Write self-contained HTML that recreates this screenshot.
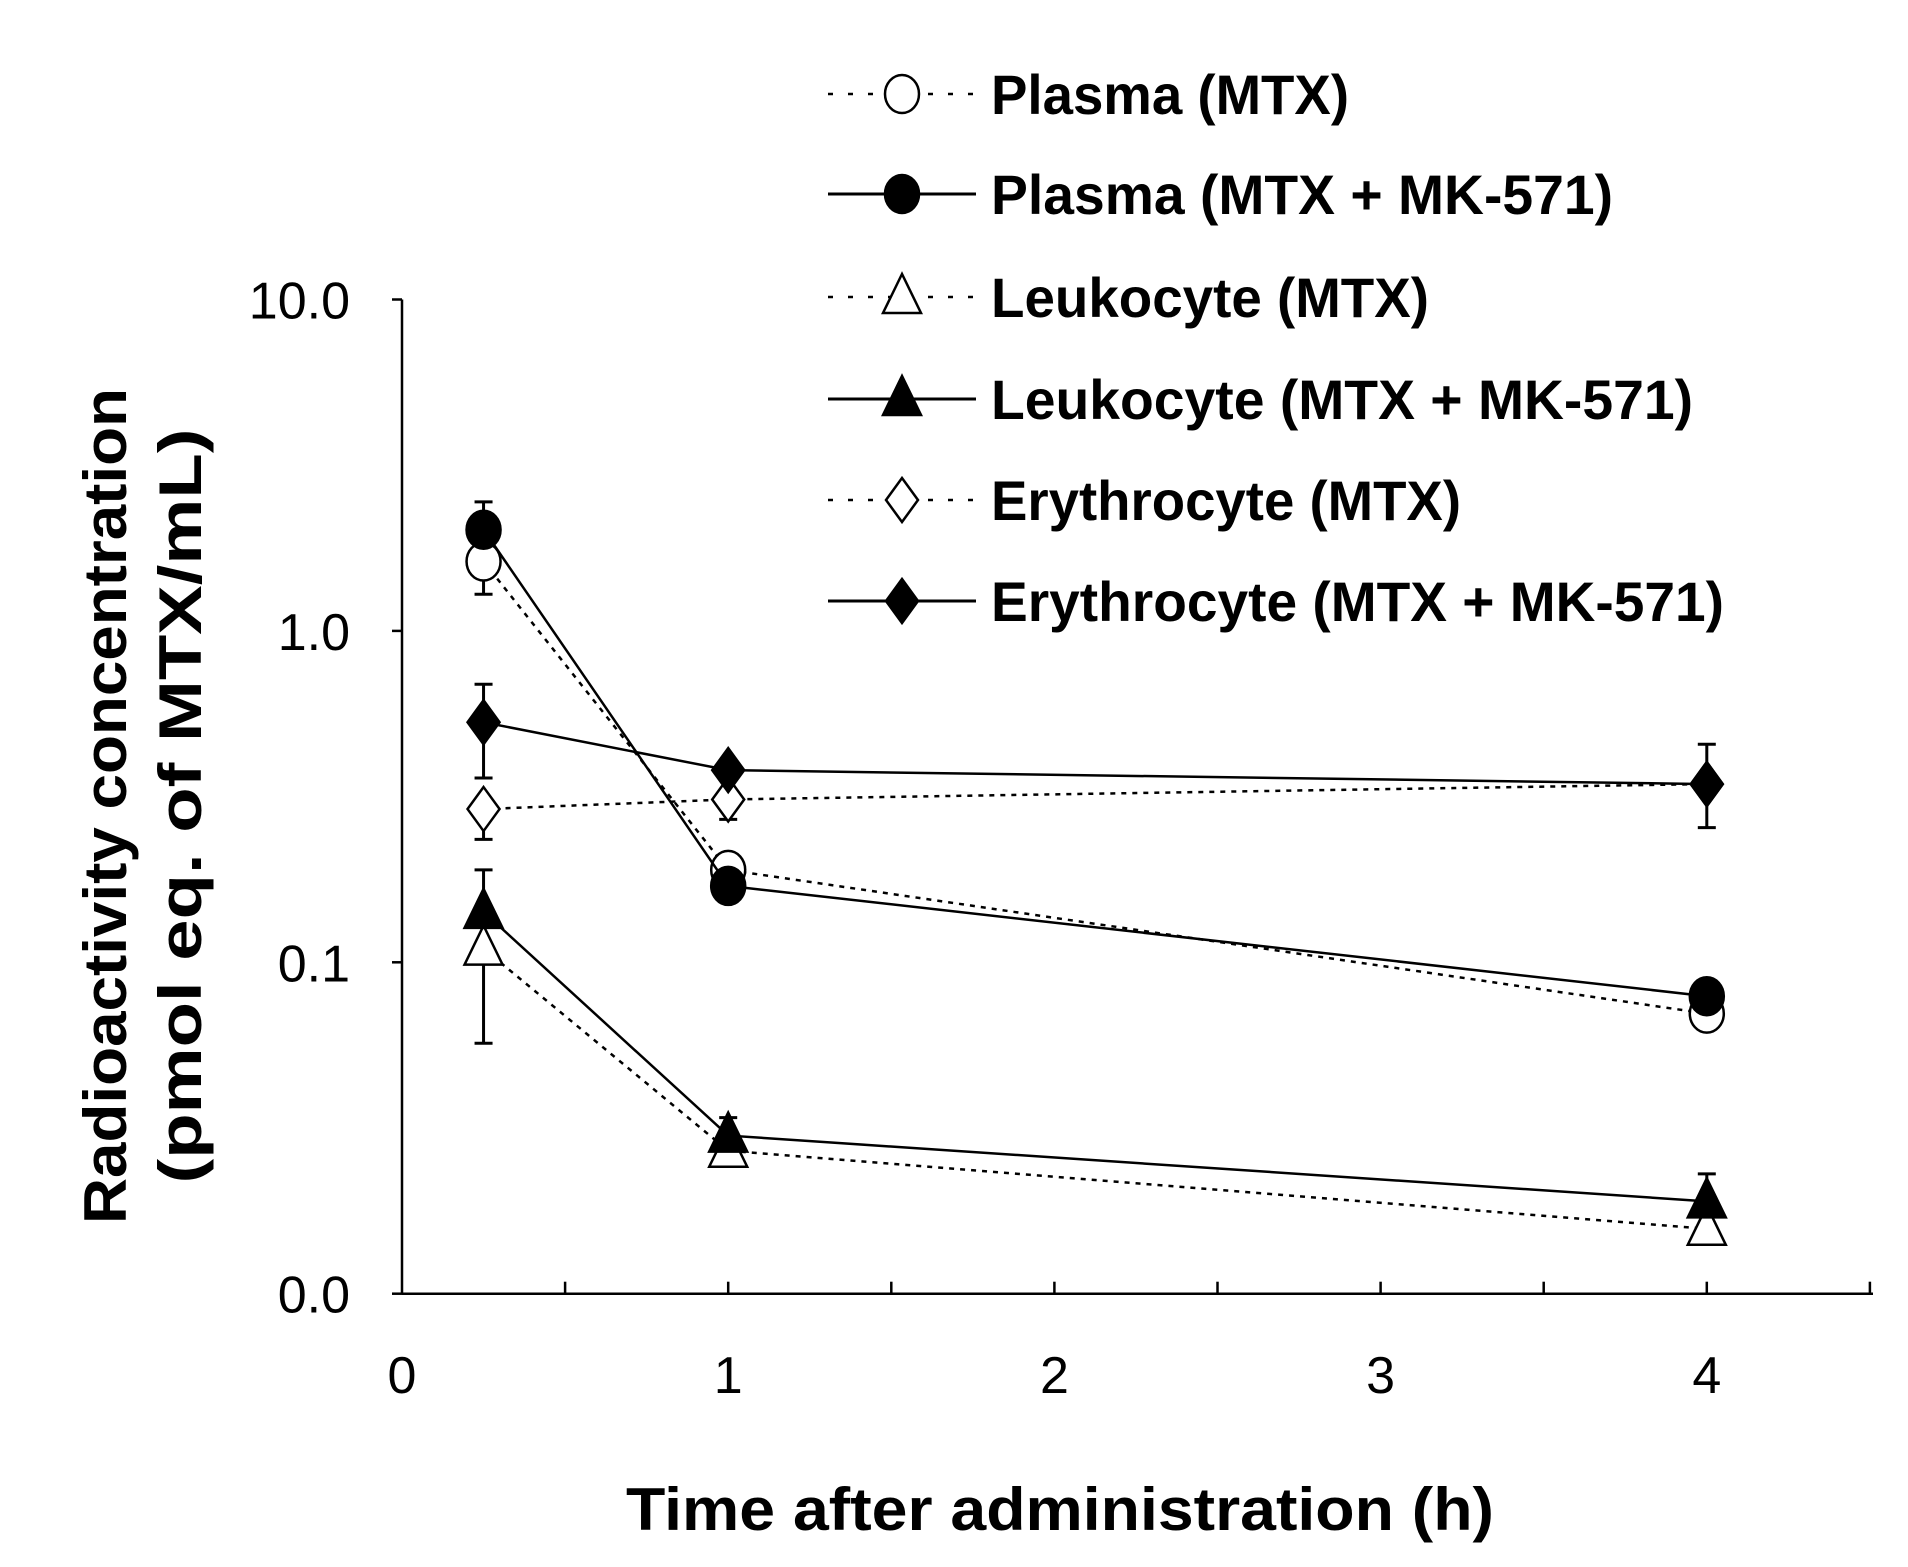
<!DOCTYPE html>
<html><head><meta charset="utf-8"><style>
html,body{margin:0;padding:0;background:#fff}
svg{display:block}
text{font-family:"Liberation Sans",Arial,sans-serif;font-weight:bold;fill:#000}
</style></head><body>
<svg id="chart" width="1908" height="1567" viewBox="0 0 1908 1567" xmlns="http://www.w3.org/2000/svg"></svg>
<script>
const times = [0.25, 1, 4];
const plasmaMTX = [1.62, 0.19, 0.070];
const plasmaMK = [2.02, 0.17, 0.079];
const leukMTX = [0.11, 0.027, 0.0157];
const leukMK = [0.142, 0.030, 0.019];
const erythMTX = [0.29, 0.31, 0.345];
const erythMK = [0.53, 0.38, 0.345];
const plasmaMTXErr = [[1.29, 1.62], [0.17, 0.21], [0.064, 0.070]];
const plasmaMKErr = [[2.02, 2.45], [0.155, 0.185], [0.079, 0.085]];
const leukMTXErr = [[0.057, 0.11], [0.025, 0.027], [0.0157, 0.0157]];
const leukMKErr = [[0.142, 0.19], [0.030, 0.034], [0.019, 0.023]];
const erythMTXErr = [[0.235, 0.29], [0.27, 0.31], [0.345, 0.345]];
const erythMKErr = [[0.36, 0.69], [0.38, 0.40], [0.255, 0.455]];
const yTickValues = [10, 1, 0.1, 0.01];
const yTickLabels = ["10.0", "1.0", "0.1", "0.0"];
const xTickValues = [0, 1, 2, 3, 4];
const legendLabels = ["Plasma (MTX)", "Plasma (MTX + MK-571)", "Leukocyte (MTX)", "Leukocyte (MTX + MK-571)", "Erythrocyte (MTX)", "Erythrocyte (MTX + MK-571)"];
const legendWidths = [358, 622, 438, 702, 470, 733];

const svg = document.getElementById('chart');
const NS = 'http://www.w3.org/2000/svg';
const X0 = 402, PX_H = 326.2, YTOP = 299.5, DEC = 331.4, XEND = 1873;
const YBOT = YTOP + 3 * DEC;
const xs = t => X0 + t * PX_H;
const ys = v => YTOP + (1 - Math.log10(v)) * DEC;
function mk(tag, attrs, parent) {
  const e = document.createElementNS(NS, tag);
  for (const k in attrs) e.setAttribute(k, attrs[k]);
  (parent || svg).appendChild(e);
  return e;
}
const ax = mk('g', {});


mk('line', {x1: X0, y1: YTOP, x2: X0, y2: YBOT, stroke: '#000', 'stroke-width': 2.5}, ax);
mk('line', {x1: X0, y1: YBOT, x2: XEND, y2: YBOT, stroke: '#000', 'stroke-width': 2.5}, ax);
yTickValues.forEach((v, i) => {
  mk('line', {x1: X0 - 10, y1: ys(v), x2: X0, y2: ys(v), stroke: '#000', 'stroke-width': 2.5}, ax);
  const t = mk('text', {x: 350, y: ys(v) + 19, 'text-anchor': 'end', 'font-size': 52}, ax);
  
  
  t.style.fontWeight = 'normal';
  t.textContent = yTickLabels[i];
});
for (let h = 0.5; h <= 4.5; h += 0.5) {
  mk('line', {x1: xs(h), y1: YBOT - 12, x2: xs(h), y2: YBOT, stroke: '#000', 'stroke-width': 2.5}, ax);
}
xTickValues.forEach(v => {
  const t = mk('text', {x: xs(v), y: 1393, 'text-anchor': 'middle', 'font-size': 52}, ax);
  
  
  t.style.fontWeight = 'normal';
  t.textContent = v;
});
const xt = mk('text', {x: 1060, y: 1530, 'text-anchor': 'middle', 'font-size': 60, textLength: 868, lengthAdjust: 'spacingAndGlyphs'});


xt.textContent = 'Time after administration (h)';
const yt = mk('text', {x: 0, y: 0, 'text-anchor': 'middle', 'font-size': 60, textLength: 836, lengthAdjust: 'spacingAndGlyphs', transform: 'translate(126,806) rotate(-90)'});


yt.textContent = 'Radioactivity concentration';
const yt2 = mk('text', {x: 0, y: 0, 'text-anchor': 'middle', 'font-size': 60, textLength: 755, lengthAdjust: 'spacingAndGlyphs', transform: 'translate(201,806) rotate(-90)'});


yt2.textContent = '(pmol eq. of MTX/mL)';

function marker(g, type, cx, cy, filled) {
  const fill = filled ? '#000' : '#fff';
  const a = {fill: fill, stroke: '#000', 'stroke-width': 2.5};
  if (type === 'circle') mk('ellipse', Object.assign({cx: cx, cy: cy, rx: 17, ry: 19}, a), g);
  else if (type === 'tri') mk('polygon', Object.assign({points: `${cx},${cy-23} ${cx-19},${cy+16} ${cx+19},${cy+16}`}, a), g);
  else mk('polygon', Object.assign({points: `${cx},${cy-22} ${cx+16},${cy} ${cx},${cy+22} ${cx-16},${cy}`}, a), g);
}
const series = [
  [plasmaMTX, plasmaMTXErr, 'circle', false, 'plasma-mtx'],
  [plasmaMK, plasmaMKErr, 'circle', true, 'plasma-mtx-mk571'],
  [leukMTX, leukMTXErr, 'tri', false, 'leukocyte-mtx'],
  [leukMK, leukMKErr, 'tri', true, 'leukocyte-mtx-mk571'],
  [erythMTX, erythMTXErr, 'diamond', false, 'erythrocyte-mtx'],
  [erythMK, erythMKErr, 'diamond', true, 'erythrocyte-mtx-mk571']
];
series.forEach(([vals, errs, type, filled, name]) => {
  const g = mk('g', {});
  
  
  errs.forEach((e, i) => {
    const x = xs(times[i]);
    mk('line', {x1: x, y1: ys(e[0]), x2: x, y2: ys(e[1]), stroke: '#000', 'stroke-width': 3}, g);
    mk('line', {x1: x - 9, y1: ys(e[0]), x2: x + 9, y2: ys(e[0]), stroke: '#000', 'stroke-width': 3}, g);
    mk('line', {x1: x - 9, y1: ys(e[1]), x2: x + 9, y2: ys(e[1]), stroke: '#000', 'stroke-width': 3}, g);
  });
  const pts = vals.map((v, i) => xs(times[i]) + ',' + ys(v)).join(' ');
  const pl = mk('polyline', {points: pts, fill: 'none', stroke: '#000', 'stroke-width': 2.5}, g);
  if (!filled) pl.setAttribute('stroke-dasharray', '5,6');
  vals.forEach((v, i) => marker(g, type, xs(times[i]), ys(v), filled));
});
const legendY = [94, 194, 297, 399, 500, 601];
const legendTypes = ['circle', 'circle', 'tri', 'tri', 'diamond', 'diamond'];
legendLabels.forEach((lab, i) => {
  const g = mk('g', {});
  
  
  const y = legendY[i];
  const filled = i % 2 === 1;
  const l = mk('line', {x1: 828, y1: y, x2: 976, y2: y, stroke: '#000', 'stroke-width': filled ? 3 : 2.5}, g);
  if (!filled) l.setAttribute('stroke-dasharray', '5,15');
  marker(g, legendTypes[i], 902, y, filled);
  const t = mk('text', {x: 991, y: y + 20, 'font-size': 56, textLength: legendWidths[i], lengthAdjust: 'spacingAndGlyphs'}, g);
  t.textContent = lab;
});
</script>
</body></html>
